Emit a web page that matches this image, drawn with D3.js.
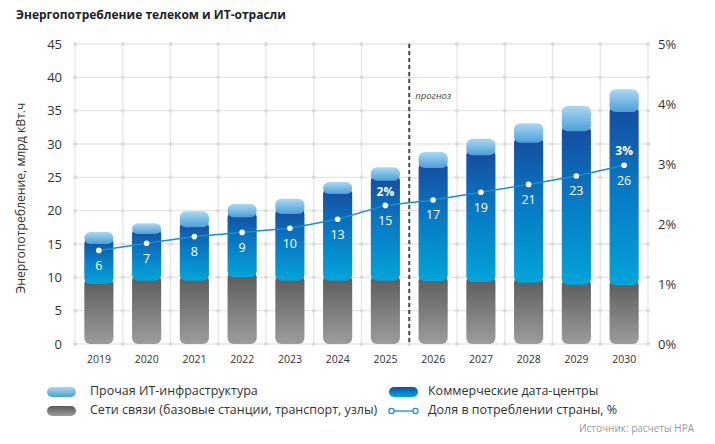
<!DOCTYPE html>
<html><head><meta charset="utf-8">
<script src="https://cdn.jsdelivr.net/npm/d3@7/dist/d3.min.js"></script>
<style>
body{margin:0;background:#fff;}
svg{display:block;font-family:'Open Sans',sans-serif;}
</style>
</head><body>
<svg id="c" width="715" height="444"></svg>
<script>
// ---- data ----
const years = [2019, 2020, 2021, 2022, 2023, 2024, 2025, 2026, 2027, 2028, 2029, 2030];
const networks = [9.0, 9.5, 9.5, 10.0, 9.5, 9.5, 9.5, 9.4, 9.3, 9.2, 8.9, 8.8];     // Сети связи
const dataCenters = [6, 7, 8, 9, 10, 13, 15, 17, 19, 21, 23, 26];                    // Коммерческие дата-центры
const otherIT = [1.8, 1.6, 2.4, 2.0, 2.3, 1.8, 2.0, 2.4, 2.5, 2.9, 3.8, 3.4];        // Прочая ИТ-инфраструктура
const sharePct = [1.56, 1.68, 1.79, 1.86, 1.93, 2.08, 2.31, 2.40, 2.53, 2.66, 2.80, 2.98]; // Доля, %
const shareLabels = ["", "", "", "", "", "", "2%", "", "", "", "", "3%"];
const leftTicks = [0, 5, 10, 15, 20, 25, 30, 35, 40, 45];
const rightTicks = [0, 1, 2, 3, 4, 5];
const forecastStart = 2026;

const title = "Энергопотребление телеком и ИТ-отрасли";
const yTitle = "Энергопотребление, млрд кВт.ч";
const legendItems = ["Прочая ИТ-инфраструктура", "Коммерческие дата-центры", "Сети связи (базовые станции, транспорт, узлы)", "Доля в потреблении страны, %"];
const source = "Источник: расчеты НРА";

// ---- layout ----
const svg = d3.select("#c");
const L = 75, R = 648, T = 44, B = 344;
const x = d3.scaleBand().domain(years).range([L, R]).padding(0);
const y = d3.scaleLinear().domain([0, 45]).range([B, T]);
const y2 = d3.scaleLinear().domain([0, 5]).range([B, T]);
const barW = x.bandwidth() * 0.61;
const rr = 6;

const defs = svg.append("defs");
function grad(id, stops) {
  const g = defs.append("linearGradient").attr("id", id).attr("x1", 0).attr("y1", 0).attr("x2", 0).attr("y2", 1);
  stops.forEach(s => g.append("stop").attr("offset", s[0]).attr("stop-color", s[1]));
}
grad("gGray", [[0, "#5a5a5a"], [1, "#9c9c9c"]]);
grad("gBlue", [[0, "#164c9e"], [0.45, "#0878c3"], [1, "#02a5d9"]]);
grad("gCap", [[0, "#aad8f3"], [1, "#4c9fd8"]]);

// title
svg.append("text").attr("x", 16).attr("y", 19).attr("font-size", 12).attr("font-weight", 700)
  .attr("fill", "#222").text(title);

// grid
const gridG = svg.append("g");
const vx = years.map(d => x(d)).concat([R]);
leftTicks.forEach(t => {
  gridG.append("line").attr("x1", L).attr("x2", R).attr("y1", y(t)).attr("y2", y(t))
    .attr("stroke", "#e6e6e6").attr("stroke-width", 1.3);
});
vx.forEach(v => {
  gridG.append("line").attr("x1", v).attr("x2", v).attr("y1", T).attr("y2", B)
    .attr("stroke", "#e6e6e6").attr("stroke-width", 1.3);
});
leftTicks.forEach(t => vx.forEach(v => {
  gridG.append("circle").attr("cx", v).attr("cy", y(t)).attr("r", 2).attr("fill", "#dcdcdc");
}));

// axes
const axL = svg.append("g").attr("transform", `translate(${L - 13},0)`)
  .call(d3.axisLeft(y).tickValues(leftTicks).tickSize(0).tickPadding(0));
axL.select(".domain").remove();
axL.selectAll("text").attr("font-size", 13).attr("fill", "#333").attr("font-family", "'Open Sans',sans-serif");

const axR = svg.append("g").attr("transform", `translate(${R + 10},0)`)
  .call(d3.axisRight(y2).tickValues(rightTicks).tickFormat(d => d + "%").tickSize(0).tickPadding(0));
axR.select(".domain").remove();
axR.selectAll("text").attr("font-size", 13).attr("fill", "#333").attr("font-family", "'Open Sans',sans-serif");

const axB = svg.append("g").attr("transform", `translate(0,${B + 12})`)
  .call(d3.axisBottom(x).tickSize(0).tickPadding(0));
axB.select(".domain").remove();
axB.selectAll("text").attr("font-size", 10.5).attr("fill", "#333").attr("font-family", "'Open Sans',sans-serif");

// y title
svg.append("text").attr("transform", `translate(25,198) rotate(-90)`)
  .attr("text-anchor", "middle").attr("font-size", 12.2).attr("fill", "#333").text(yTitle);

// forecast divider
svg.append("line").attr("x1", x(forecastStart)).attr("x2", x(forecastStart)).attr("y1", T).attr("y2", B)
  .attr("stroke", "#4a4a4a").attr("stroke-width", 2).attr("stroke-dasharray", "4,3");
svg.append("text").attr("x", x(forecastStart) + 6).attr("y", 99).attr("font-size", 9.5)
  .attr("font-style", "italic").attr("fill", "#444").text("прогноз");

// bars
const barsG = svg.append("g");
years.forEach((yr, i) => {
  const cx = x(yr) + x.bandwidth() / 2;
  const segs = [
    { b: 0, t: networks[i], f: "url(#gGray)", ext: true },
    { b: networks[i], t: networks[i] + dataCenters[i], f: "url(#gBlue)", ext: true },
    { b: networks[i] + dataCenters[i], t: networks[i] + dataCenters[i] + otherIT[i], f: "url(#gCap)", ext: false }
  ];
  segs.forEach(s => {
    const top = y(s.t) - (s.ext ? rr : 0);
    barsG.append("rect").attr("x", cx - barW / 2).attr("width", barW)
      .attr("y", top).attr("height", y(s.b) - top).attr("rx", rr).attr("ry", rr).attr("fill", s.f);
  });
});

// share line
const cxOf = (d, i) => x(years[i]) + x.bandwidth() / 2;
svg.append("path").datum(sharePct)
  .attr("d", d3.line().x(cxOf).y(d => y2(d)))
  .attr("fill", "none").attr("stroke", "#1a8dcf").attr("stroke-width", 1.5);
svg.append("g").selectAll("circle").data(sharePct).join("circle")
  .attr("cx", cxOf).attr("cy", d => y2(d)).attr("r", 2.8).attr("fill", "#fff");

// value labels
svg.append("g").selectAll("text").data(dataCenters).join("text")
  .attr("x", (d, i) => cxOf(d, i)).attr("y", (d, i) => y2(sharePct[i]) + 16)
  .attr("text-anchor", "middle").attr("dominant-baseline", "middle")
  .attr("font-size", 12.5).attr("fill", "#fff").text(d => d);
svg.append("g").selectAll("text").data(shareLabels).join("text")
  .attr("x", (d, i) => cxOf(d, i)).attr("y", (d, i) => y2(sharePct[i]) - 13)
  .attr("text-anchor", "middle").attr("dominant-baseline", "middle")
  .attr("font-size", 12).attr("font-weight", 700).attr("fill", "#fff").text(d => d);

// legend
const lg = svg.append("g").attr("font-size", 12.5).attr("fill", "#333");
const lpos = [[47, 392], [389, 392], [47, 411], [389, 411]];
const lfill = ["url(#gCap)", "url(#gBlue)", "url(#gGray)", null];
legendItems.forEach((t, i) => {
  const [lx, ly] = lpos[i];
  if (lfill[i]) {
    lg.append("rect").attr("x", lx).attr("y", ly - 5).attr("width", 29).attr("height", 10)
      .attr("rx", 5).attr("fill", lfill[i]);
  } else {
    lg.append("line").attr("x1", lx + 2).attr("x2", lx + 27).attr("y1", ly).attr("y2", ly)
      .attr("stroke", "#1a8dcf").attr("stroke-width", 1.3);
    [lx + 2.5, lx + 26.5].forEach(c => lg.append("circle").attr("cx", c).attr("cy", ly).attr("r", 2.6)
      .attr("fill", "#fff").attr("stroke", "#1a8dcf").attr("stroke-width", 1.2));
  }
  lg.append("text").attr("x", lx + 43 - (i % 2) * 4).attr("y", ly).attr("dominant-baseline", "middle")
    .attr("fill", "#333").text(t);
});

svg.append("text").attr("x", 694).attr("y", 429).attr("text-anchor", "end").attr("dominant-baseline", "middle")
  .attr("font-size", 10).attr("fill", "#9a9a9a").text(source);
</script>
</body></html>
